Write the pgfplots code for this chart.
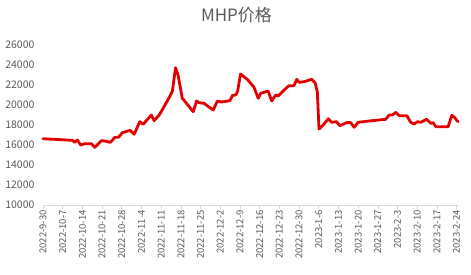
\documentclass[border=0pt]{standalone}
\usepackage{pgfplots}
\pgfplotsset{compat=1.18}
\usepackage{fontspec}
\setmainfont{Noto Sans CJK SC}
\definecolor{lblgray}{RGB}{89,89,89}
\definecolor{axgray}{RGB}{217,217,217}
\definecolor{linered}{RGB}{228,0,0}
\begin{document}
\begin{tikzpicture}
\begin{axis}[
  scale only axis, width=415pt, height=160pt,
  at={(0,0)}, anchor=south west,
  xmin=0, xmax=147.5, ymin=10000, ymax=26000,
  axis x line=bottom, axis y line=left,
  x axis line style={draw=axgray,-},
  y axis line style={draw=none},
  xtick={0,7,...,147},
  xticklabels={2022-9-30,2022-10-7,2022-10-14,2022-10-21,2022-10-28,2022-11-4,2022-11-11,2022-11-18,2022-11-25,2022-12-2,2022-12-9,2022-12-16,2022-12-23,2022-12-30,2023-1-6,2023-1-13,2023-1-20,2023-1-27,2023-2-3,2023-2-10,2023-2-17,2023-2-24},
  xticklabel style={rotate=90, anchor=east, font=\fontsize{9.5}{10}\selectfont, text=lblgray, inner sep=1pt},
  x tick style={draw=axgray, line width=0.6pt},
  tick align=outside, major tick length=4pt,
  ytick={10000,12000,...,26000},
  scaled y ticks=false,
  yticklabel style={font=\fontsize{10.5}{11}\selectfont, text=lblgray, xshift=-1pt},
  y tick style={draw=none},
  /pgf/number format/1000 sep={},
  /pgf/number format/assume math mode=true,
  clip=false,
]
\addplot[linered, line width=2.8pt, line join=round, line cap=round] coordinates {
(0,16630) (10.4,16470) (11.3,16270) (12.2,16500) (13.4,16000) (14.8,16130) (17.2,16130) (18.4,15770) (20.8,16430) (22,16400) (24,16270) (25.5,16770) (26.8,16770) (28.2,17230) (31,17470) (32.4,17070) (34.4,18330) (35.6,18070) (38.5,19000) (39.5,18430) (41.3,19000) (42.7,19670) (45,20830) (46,21400) (47.1,23730) (48,23000) (49.5,20670) (51,20170) (53.4,19330) (54.6,20400) (55.5,20230) (57.2,20170) (60.5,19500) (62,20400) (63.5,20300) (66.4,20430) (67.4,20970) (68.5,21000) (69.2,21400) (70.2,23100) (72.6,22570) (75,21770) (76.5,20670) (77.4,21170) (80,21400) (81.3,20400) (82.7,21000) (83.6,20900) (85.7,21500) (87.4,21930) (89.2,21930) (90.2,22570) (91,22270) (92.8,22330) (95.5,22570) (96.7,22230) (97.5,21330) (98.1,17600) (99.9,18100) (101.4,18630) (102.6,18270) (104.3,18330) (105.5,17930) (108.2,18270) (109.4,18230) (110.6,17770) (112,18270) (115.9,18400) (121.8,18570) (123,19000) (124.2,19000) (125.4,19270) (126.6,18930) (129.3,18930) (130.7,18270) (131.9,18100) (133.1,18330) (134.3,18270) (136.3,18570) (137.9,18170) (138.7,18230) (139.6,17830) (144,17830) (145.3,18970) (146.2,18770) (147.5,18330)
};
\end{axis}
\node[text=lblgray, font=\fontsize{17}{19}\selectfont] at (193.5pt,190pt) {MHP价格};
\path[use as bounding box] (-43pt,-69pt) rectangle (428pt,205pt);
\end{tikzpicture}
\end{document}
